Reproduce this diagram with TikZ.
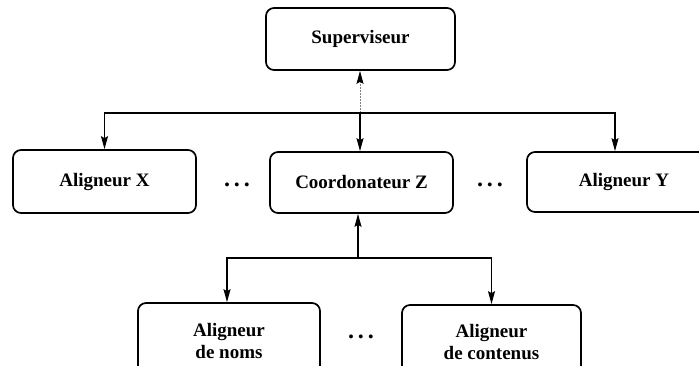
\documentclass[tikz,border=0pt]{standalone}
\usepackage{fontspec}
\setmainfont{Liberation Serif}
\usetikzlibrary{arrows.meta}
\begin{document}
\begin{tikzpicture}[x=1pt,y=-1pt,
  agent/.style={draw,line width=1.7pt,rounded corners=8pt,rectangle,
    align=center,font=\fontsize{19}{22}\selectfont\bfseries,inner sep=0pt},
  tip/.style={-{Stealth[length=13pt,width=7pt,inset=2pt]}},
  link/.style={line width=1.2pt,tip},
  upline/.style={line width=0.9pt,gray,dash pattern=on 2pt off 1pt,
    -{Stealth[length=13pt,width=7pt,inset=2pt,black]}},
  dots/.style={font=\fontsize{24}{26}\selectfont\bfseries}]
\useasboundingbox (0,0) rectangle (699,365);
\clip (0,0) rectangle (699,365);

% agents
\node[agent,minimum width=189pt,minimum height=62pt] (sup) at (360.5,39) {Superviseur};
\node[agent,minimum width=183pt,minimum height=63pt] (ax) at (104.5,181.5) {Aligneur X};
\node[agent,minimum width=183pt,minimum height=61pt] (coord) at (361.5,182.5) {Coordonateur Z};
\node[agent,minimum width=194pt,minimum height=60pt] (ay) at (624,182) {Aligneur Y};
\node[agent,minimum width=182pt,minimum height=76pt] (anoms) at (229,341) {Aligneur\\de noms};
\node[agent,minimum width=179pt,minimum height=74pt] (acont) at (491.5,342) {Aligneur\\de contenus};

% ellipses between siblings
\node[dots] (d1) at (237,185) {.\,.\,.};
\node[dots] (d2) at (490,185) {.\,.\,.};
\node[dots] (d3) at (361,337) {.\,.\,.};

% junctions
\coordinate (j1) at (360,113);
\coordinate (j2) at (358,258);

% upper level
\draw[upline] (j1) -- (sup.south -| j1);
\draw[link] (j1) -- (coord.north -| j1);
\draw[link] (j1) -| (ax.north);
\draw[link] (j1) -| ([xshift=-9pt]ay.north);

% lower level
\draw[link] (j2) -- (coord.south -| j2);
\draw[link] (j2) -| ([xshift=-2pt]anoms.north);
\draw[link] (j2) -| (acont.north);
\end{tikzpicture}
\end{document}
